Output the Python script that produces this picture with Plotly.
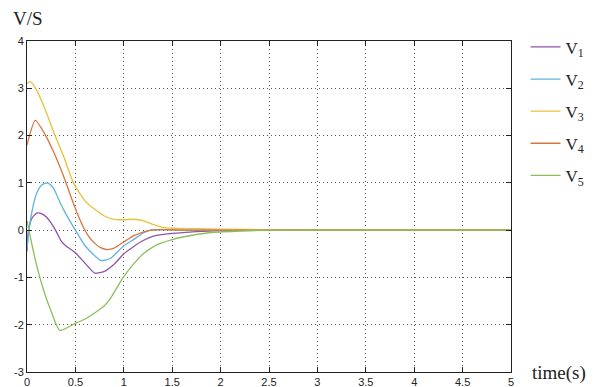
import plotly.graph_objects as go

# ---- data ----
t_v1 = [0, 0.015, 0.05, 0.1, 0.15, 0.2, 0.25, 0.3, 0.35, 0.4, 0.5, 0.6, 0.7, 0.8, 0.9, 1.0, 1.1, 1.2, 1.3, 1.5, 1.75, 2.0, 2.5, 3.0, 4.0, 5.0]
v1 = [-0.45, 0.0, 0.25, 0.36, 0.35, 0.28, 0.15, -0.02, -0.22, -0.33, -0.48, -0.7, -0.91, -0.87, -0.72, -0.5, -0.35, -0.22, -0.13, -0.07, -0.03, -0.01, 0.0, 0.0, 0.0, 0.0]

t_v2 = [0, 0.02, 0.07, 0.1, 0.15, 0.21, 0.27, 0.345, 0.4, 0.5, 0.6, 0.655, 0.76, 0.86, 1.0, 1.1, 1.2, 1.28, 1.4, 1.6, 2.0, 3.0, 4.0, 5.0]
v2 = [-0.4, 0.0, 0.57, 0.78, 0.95, 1.0, 0.9, 0.57, 0.35, 0.0, -0.33, -0.45, -0.64, -0.6, -0.33, -0.2, -0.06, 0.0, 0.01, 0.0, 0.0, 0.0, 0.0, 0.0]

t_v3 = [0, 0.034, 0.1, 0.19, 0.28, 0.38, 0.48, 0.6, 0.7, 0.8, 0.9, 1.0, 1.1, 1.2, 1.3, 1.4, 1.5, 1.75, 2.0, 2.5, 3.0, 4.0, 5.0]
v3 = [3.1, 3.14, 2.96, 2.54, 2.05, 1.55, 1.0, 0.62, 0.44, 0.3, 0.23, 0.22, 0.23, 0.2, 0.12, 0.06, 0.04, 0.03, 0.02, 0.01, 0.0, 0.0, 0.0]

t_v4 = [0, 0.086, 0.19, 0.28, 0.38, 0.5, 0.585, 0.65, 0.7, 0.76, 0.83, 0.9, 1.0, 1.1, 1.2, 1.28, 1.4, 1.6, 2.0, 2.5, 3.0, 4.0, 5.0]
v4 = [1.8, 2.32, 2.01, 1.63, 1.13, 0.45, 0.05, -0.17, -0.28, -0.37, -0.41, -0.38, -0.25, -0.12, -0.04, 0.0, 0.01, 0.0, 0.0, 0.0, 0.0, 0.0, 0.0]

t_v5 = [0, 0.086, 0.17, 0.25, 0.34, 0.5, 0.6, 0.72, 0.8, 0.86, 1.0, 1.1, 1.2, 1.34, 1.5, 1.62, 1.9, 2.2, 2.5, 3.0, 4.0, 5.0]
v5 = [0.2, -0.63, -1.26, -1.72, -2.12, -1.97, -1.88, -1.72, -1.6, -1.45, -0.98, -0.72, -0.5, -0.31, -0.2, -0.14, -0.05, -0.02, 0.0, 0.0, 0.0, 0.0]

series_names = ["V<sub>1</sub>", "V<sub>2</sub>", "V<sub>3</sub>", "V<sub>4</sub>", "V<sub>5</sub>"]
series_colors = ["#8E55A6", "#5FB3DF", "#E5C23A", "#D8743F", "#8DBE5C"]

x_tickvals = [0, 0.5, 1, 1.5, 2, 2.5, 3, 3.5, 4, 4.5, 5]
x_ticktext = ["0", "0.5", "1", "1.5", "2", "2.5", "3", "3.5", "4", "4.5", "5"]
y_tickvals = [4, 3, 2, 1, 0, -1, -2, -3]
y_ticktext = ["4", "3", "2", "1", "0", "-1", "-2", "-3"]

fig = go.Figure()
all_t = [t_v1, t_v2, t_v3, t_v4, t_v5]
all_v = [v1, v2, v3, v4, v5]
for i, (tt, vv) in enumerate(zip(all_t, all_v)):
    fig.add_trace(go.Scatter(
        x=tt, y=vv, mode="lines", name=series_names[i],
        line=dict(color=series_colors[i], width=1.3, shape="spline", smoothing=0.6),
        legendgroup=f"g{i}",
    ))

axis_common = dict(
    showline=True, linecolor="#222", linewidth=1, mirror="ticks",
    ticks="inside", ticklen=5, tickcolor="#222",
    showgrid=True, gridcolor="#555", gridwidth=1, griddash="1px,3px",
    zeroline=False, automargin=False,
    tickfont=dict(family="Liberation Sans, Arial, sans-serif", size=11, color="#222"),
)

fig.update_xaxes(range=[0, 5], tickvals=x_tickvals, ticktext=x_ticktext, **axis_common)
fig.update_yaxes(range=[-3, 4], tickvals=y_tickvals, ticktext=y_ticktext, **axis_common)

# the page body adds an 8px offset, so the figure is 8px smaller than the window
off = 8
W, H = 595 - off, 387 - off
ml, mr, mt, mb = 19, 84, 33, 14.5
pw = W - ml - mr
ph = H - mt - mb


def px_to_paper(xp, yp):
    return (xp - off - ml) / pw, (H - (yp - off) - mb) / ph


serif = "Liberation Serif, Times New Roman, serif"
vs_x, vs_y = px_to_paper(28, 18.5)
ts_x, ts_y = px_to_paper(559, 374)
fig.update_layout(
    width=W, height=H,
    margin=dict(l=ml, r=mr, t=mt, b=mb, autoexpand=False),
    paper_bgcolor="white", plot_bgcolor="white",
    showlegend=True,
    legend=dict(
        x=1.03, y=1.035, xanchor="left", yanchor="top",
        font=dict(family=serif, size=17, color="#222"),
        tracegroupgap=7, bgcolor="rgba(0,0,0,0)",
    ),
    annotations=[
        dict(text="V/S", x=vs_x, y=vs_y, xref="paper", yref="paper",
             showarrow=False, xanchor="center", yanchor="middle",
             font=dict(family=serif, size=19, color="#222")),
        dict(text="time(s)", x=ts_x, y=ts_y, xref="paper", yref="paper",
             showarrow=False, xanchor="center", yanchor="middle",
             font=dict(family=serif, size=19, color="#222")),
    ],
)

fig.write_html("out.html")
